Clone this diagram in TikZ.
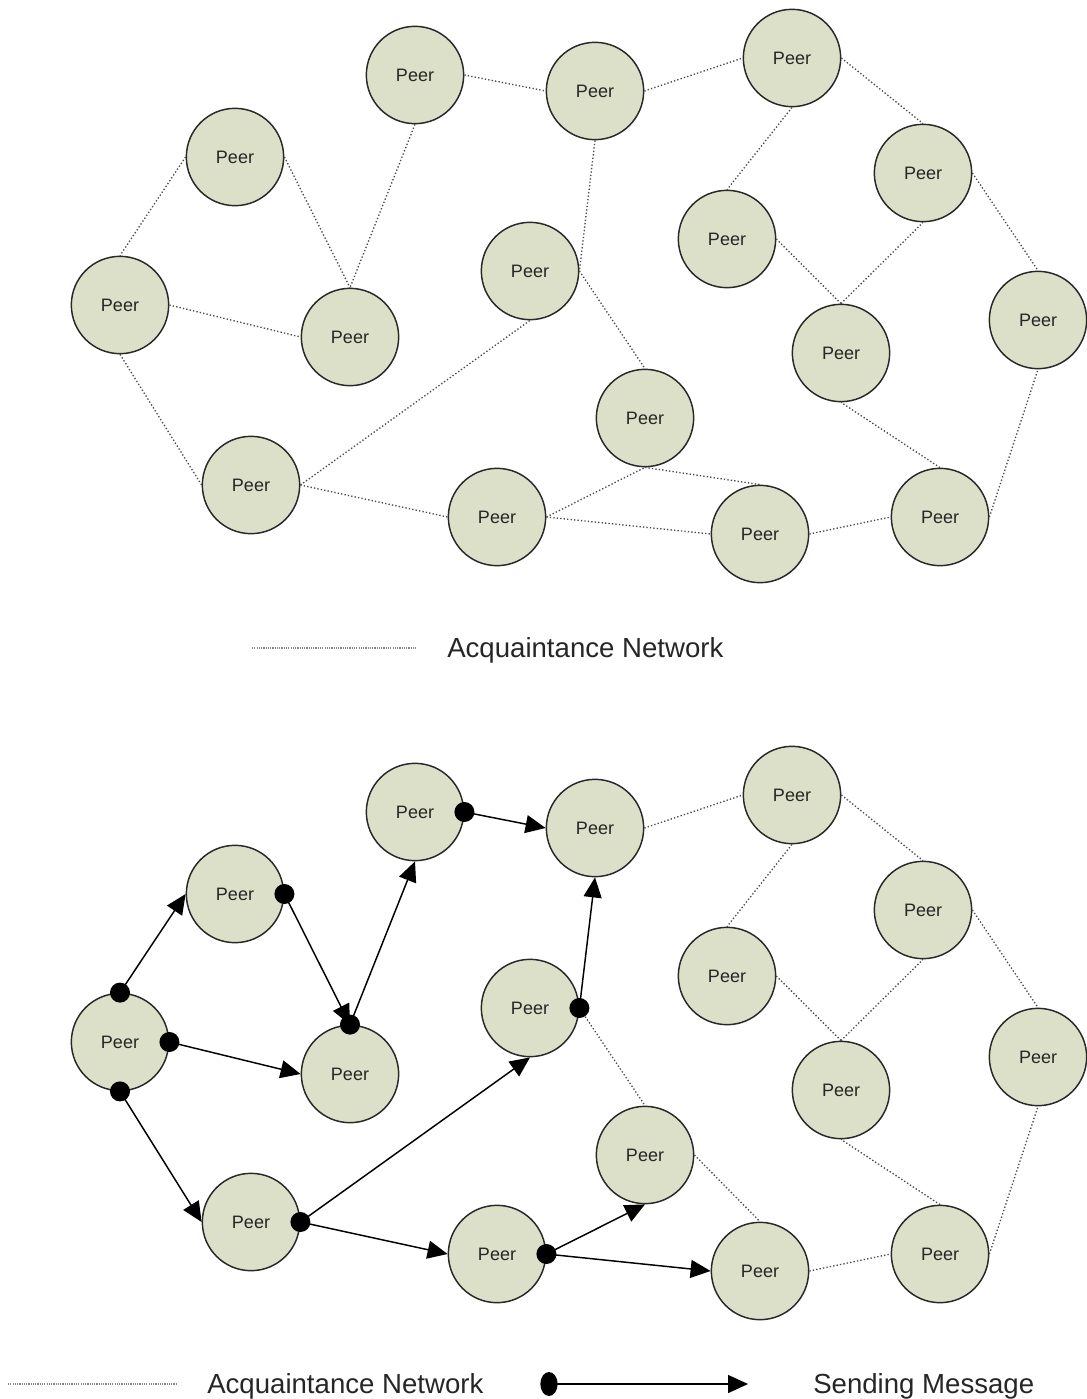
\documentclass[tikz,border=0pt]{standalone}
\usepackage{fontspec}
\setmainfont{Liberation Sans}
\usetikzlibrary{arrows.meta,shapes.geometric}
\definecolor{peerfill}{RGB}{220,224,200}
\definecolor{peerline}{RGB}{40,40,40}
\definecolor{linkgray}{RGB}{75,75,75}
\definecolor{legendgray}{RGB}{135,135,135}
\tikzset{
  peer/.style={circle,draw=peerline,line width=1.1pt,fill=peerfill,
    minimum size=73pt,inner sep=0pt,text=black!85,
    font=\fontsize{13.5}{16}\selectfont},
  link/.style={draw=linkgray,line width=1pt,dash pattern=on 1pt off 1.6pt},
  legendlink/.style={draw=legendgray,line width=1.4pt,dash pattern=on 0.9pt off 0.8pt},
  msg/.style={draw=black,line width=1.1pt,-{Triangle[length=15pt,width=13.5pt]}},
  senddot/.style={circle,fill=black,minimum size=15pt,inner sep=0pt},
  legendtext/.style={anchor=base west,inner sep=0pt,text=black!85,
    font=\fontsize{20.7}{24}\selectfont}
}
\begin{document}
\begin{tikzpicture}[x=0.75pt,y=-0.75pt]
\useasboundingbox (0,0) rectangle (1086,1399);

% peers of both networks (t = upper, b = lower)
\foreach \pre/\dy in {t/0,b/737}{
  \foreach \n/\x/\y in {1/415/75, 2/595/91, 3/792/58, 4/235/157,
      5/923/173, 6/727/239, 7/530/271, 8/120/305, 9/350/337,
      10/1038/320, 11/841/353, 12/645/418, 13/251/485, 14/497/517,
      15/760/534, 16/940/517}
    \node[peer] (\pre\n) at (\x,\y+\dy) {Peer};
}

% upper network: acquaintance links
\foreach \a/\b in {t1.east/t2.west, t2.east/t3.west, t3.east/t5.north,
    t3.south/t6.north, t1.south/t9.north, t4.east/t9.north,
    t4.west/t8.north, t8.east/t9.west, t8.south/t13.west,
    t13.east/t7.south, t2.south/t7.east, t7.east/t12.north,
    t13.east/t14.west, t14.east/t12.south, t14.east/t15.west,
    t12.south/t15.north, t15.east/t16.west, t16.east/t10.south,
    t16.north/t11.south, t11.north/t6.east, t11.north/t5.south,
    t5.east/t10.north}
  \draw[link] (\a) -- (\b);

% lower network: remaining acquaintance links
\foreach \a/\b in {b2.east/b3.west, b3.east/b5.north, b3.south/b6.north,
    b7.east/b12.north, b12.east/b15.north, b15.east/b16.west,
    b16.east/b10.south, b16.north/b11.south, b11.north/b6.east,
    b11.north/b5.south, b5.east/b10.north}
  \draw[link] (\a) -- (\b);

% lower network: message senders
\node[senddot] (s8n) at (b8.north) {};
\node[senddot] (s8e) at (b8.east) {};
\node[senddot] (s8s) at (b8.south) {};
\node[senddot] (s4e) at (b4.east) {};
\node[senddot] (s9n) at (b9.north) {};
\node[senddot] (s1e) at (b1.east) {};
\node[senddot] (s13e) at (b13.east) {};
\node[senddot] (s7e) at (b7.east) {};
\node[senddot] (s14e) at (b14.east) {};

% lower network: messages
\draw[msg] (s8n.center) -- (b4.west);
\draw[msg] (s8e.center) -- (b9.west);
\draw[msg] (s8s.center) -- (b13.west);
\draw[msg] (s4e.center) -- (b9.north);
\draw[msg] (s9n.center) -- (b1.south);
\draw[msg] (s1e.center) -- (b2.west);
\draw[msg] (s13e.center) -- (b7.south);
\draw[msg] (s13e.center) -- (b14.west);
\draw[msg] (s7e.center) -- (b2.south);
\draw[msg] (s14e.center) -- (b12.south);
\draw[msg] (s14e.center) -- (b15.west);

% legend of the upper network
\coordinate (la1) at (252,648);
\coordinate (la2) at (417,648);
\draw[legendlink] (la1) -- (la2);
\node[legendtext] (lt1) at (447,657) {Acquaintance Network};

% legend of the lower network
\coordinate (lb1) at (8,1384);
\coordinate (lb2) at (178,1384);
\draw[legendlink] (lb1) -- (lb2);
\node[legendtext] (lt2) at (207,1393) {Acquaintance Network};
\node[ellipse,fill=black,minimum width=13pt,minimum height=18pt,inner sep=0pt]
  (ld) at (549,1384) {};
\coordinate (lm) at (748,1384);
\draw[msg] (ld.center) -- (lm);
\node[legendtext] (lt3) at (813,1393) {Sending Message};
\end{tikzpicture}
\end{document}
